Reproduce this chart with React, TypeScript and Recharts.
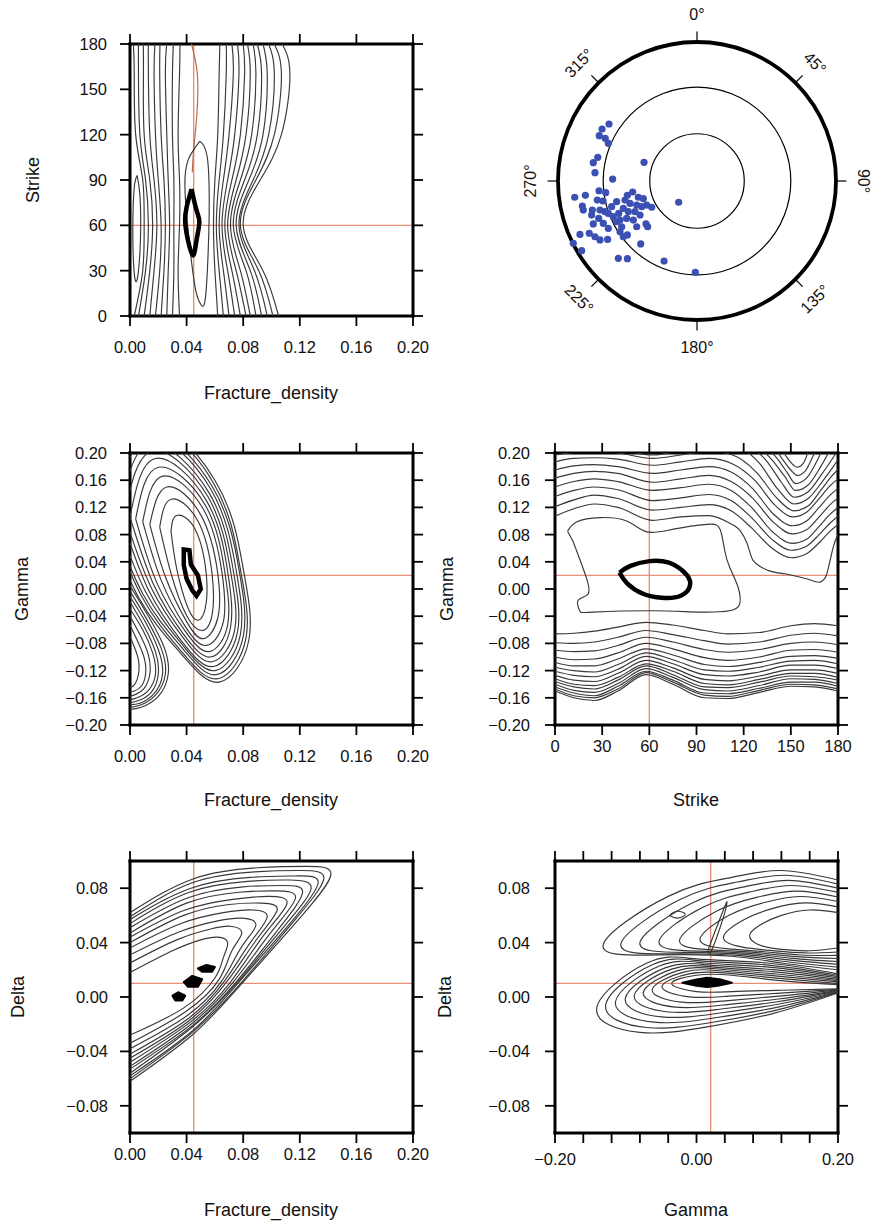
import React from "react";
import { ScatterChart, Scatter, XAxis, YAxis, ReferenceLine, ReferenceDot } from "recharts";

type Pt = [number, number];
type Curve = { pts: Pt[]; joint?: string; width?: number; color?: string; filled?: boolean };

const FONT = '"Liberation Sans", Arial, Helvetica, sans-serif';
const INK = "#383838";
const RED = "#e88f78";
const BROWN = "#b8654a";
const BLUE = "#3b50b2";

// ---------- panel 1: Fracture_density / Strike ----------
const strikeLevels = [180, 160, 120, 90, 60, 30, 0];
// x position of each near-vertical contour at the strike levels above
const fdStrikeLeft = [
  [0.0024, 0.003, 0.004, 0.009, 0.01, 0.009, 0.003],
  [0.0059, 0.006, 0.007, 0.011, 0.013, 0.011, 0.006],
  [0.0094, 0.0095, 0.01, 0.014, 0.016, 0.014, 0.01],
  [0.0129, 0.013, 0.014, 0.017, 0.019, 0.017, 0.014],
  [0.0176, 0.017, 0.018, 0.02, 0.022, 0.021, 0.018],
  [0.0212, 0.021, 0.022, 0.024, 0.025, 0.024, 0.022],
  [0.0259, 0.025, 0.026, 0.027, 0.028, 0.027, 0.026],
  [0.0306, 0.03, 0.03, 0.031, 0.031, 0.031, 0.03],
  [0.0353, 0.035, 0.034, 0.035, 0.035, 0.034, 0.035],
];
const fdStrikeRight = [
  [0.0635, 0.063, 0.062, 0.06, 0.059, 0.06, 0.062],
  [0.068, 0.068, 0.066, 0.063, 0.061, 0.063, 0.066],
  [0.072, 0.073, 0.07, 0.066, 0.063, 0.066, 0.07],
  [0.076, 0.077, 0.074, 0.069, 0.065, 0.069, 0.074],
  [0.08, 0.081, 0.078, 0.072, 0.067, 0.072, 0.078],
  [0.083, 0.085, 0.082, 0.075, 0.069, 0.075, 0.082],
  [0.087, 0.089, 0.086, 0.078, 0.071, 0.078, 0.085],
  [0.09, 0.093, 0.09, 0.081, 0.073, 0.082, 0.089],
  [0.094, 0.097, 0.094, 0.084, 0.075, 0.085, 0.093],
  [0.098, 0.102, 0.098, 0.087, 0.077, 0.088, 0.097],
  [0.102, 0.107, 0.102, 0.089, 0.078, 0.091, 0.101],
  [0.1076, 0.113, 0.107, 0.092, 0.08, 0.094, 0.105],
];
const fdStrikeBrown: Pt[] = [[0.0435, 180], [0.047, 165], [0.048, 150], [0.047, 130], [0.045, 110], [0.044, 95]];
const fdStrikeSideLoop: Pt[] = [[0.005, 93], [0.007, 80], [0.0075, 55], [0.006, 30], [0.004, 23], [0.0025, 35], [0.002, 60], [0.003, 85]];
const fdStrikeInnerLoop: Pt[] = [[0.0494, 115.7], [0.0545, 105.7], [0.056, 77], [0.0553, 44], [0.053, 10], [0.0494, 8.8], [0.0459, 19.8], [0.0412, 55], [0.0388, 86], [0.0412, 103.5]];
const fdStrikeMin: Pt[] = [[0.0435, 84], [0.047, 70], [0.049, 62], [0.047, 50], [0.0445, 40], [0.041, 50], [0.039, 62], [0.04, 72]];

// ---------- panel 3: Fracture_density / Gamma ----------
const fdGammaRings: Pt[][] = [
  [[0.029, 0.085], [0.033, 0.108], [0.046, 0.088], [0.054, 0.02], [0.053, -0.03], [0.048, -0.046], [0.041, -0.028], [0.033, 0.03]],
  [[0.021, 0.091], [0.029, 0.132], [0.048, 0.1], [0.058, 0.022], [0.058, -0.038], [0.051, -0.061], [0.04, -0.039], [0.029, 0.023]],
  [[0.014, 0.095], [0.026, 0.15], [0.05, 0.109], [0.062, 0.023], [0.062, -0.043], [0.052, -0.073], [0.04, -0.048], [0.025, 0.018]],
  [[0.009, 0.099], [0.023, 0.166], [0.052, 0.117], [0.065, 0.024], [0.066, -0.048], [0.054, -0.083], [0.039, -0.055], [0.022, 0.013]],
  [[0.004, 0.103], [0.02, 0.179], [0.053, 0.124], [0.067, 0.025], [0.069, -0.053], [0.056, -0.092], [0.039, -0.062], [0.019, 0.009]],
  [[0.0, 0.106], [0.018, 0.192], [0.054, 0.13], [0.069, 0.026], [0.071, -0.057], [0.057, -0.1], [0.038, -0.067], [0.017, 0.005]],
  [[-0.004, 0.108], [0.016, 0.203], [0.055, 0.136], [0.071, 0.027], [0.074, -0.06], [0.058, -0.107], [0.038, -0.073], [0.015, 0.002]],
  [[-0.007, 0.111], [0.014, 0.213], [0.056, 0.141], [0.073, 0.027], [0.076, -0.063], [0.059, -0.114], [0.037, -0.078], [0.013, -0.001]],
  [[-0.011, 0.113], [0.013, 0.223], [0.057, 0.147], [0.075, 0.028], [0.078, -0.067], [0.06, -0.12], [0.037, -0.082], [0.011, -0.004]],
  [[-0.014, 0.116], [0.011, 0.233], [0.058, 0.151], [0.077, 0.029], [0.08, -0.07], [0.061, -0.126], [0.037, -0.087], [0.009, -0.007]],
  [[-0.017, 0.118], [0.01, 0.242], [0.059, 0.156], [0.078, 0.029], [0.082, -0.072], [0.062, -0.132], [0.036, -0.091], [0.008, -0.01]],
  [[-0.02, 0.12], [0.008, 0.25], [0.06, 0.16], [0.08, 0.03], [0.084, -0.075], [0.063, -0.137], [0.036, -0.095], [0.006, -0.012]],
];
const fdGammaLobes: Pt[][] = [
  [[0, -0.07], [0.003, -0.085], [0.006, -0.105], [0.006, -0.125], [0.004, -0.138], [0.002, -0.143], [0, -0.145]],
  [[0, -0.053], [0.005, -0.075], [0.01, -0.101], [0.011, -0.125], [0.008, -0.143], [0.003, -0.15], [0, -0.152]],
  [[0, -0.04], [0.007, -0.067], [0.013, -0.097], [0.014, -0.125], [0.01, -0.146], [0.004, -0.155], [0, -0.158]],
  [[0, -0.029], [0.009, -0.06], [0.016, -0.094], [0.018, -0.125], [0.013, -0.149], [0.005, -0.16], [0, -0.163]],
  [[0, -0.019], [0.01, -0.055], [0.018, -0.092], [0.02, -0.125], [0.015, -0.152], [0.006, -0.164], [0, -0.167]],
  [[0, -0.011], [0.011, -0.049], [0.02, -0.089], [0.023, -0.125], [0.017, -0.154], [0.007, -0.168], [0, -0.17]],
  [[0, -0.003], [0.012, -0.045], [0.022, -0.087], [0.025, -0.125], [0.018, -0.156], [0.007, -0.171], [0, -0.174]],
  [[0, 0.005], [0.013, -0.04], [0.024, -0.085], [0.027, -0.125], [0.02, -0.158], [0.008, -0.174], [0, -0.177]],
];
const fdGammaMin: Pt[] = [[0.038, 0.058], [0.042, 0.057], [0.043, 0.036], [0.048, 0.02], [0.05, 0.0], [0.047, -0.01], [0.044, -0.002], [0.04, 0.015], [0.038, 0.035]];

// ---------- panel 4: Strike / Gamma ----------
const strikeGammaWaves: Pt[][] = [
  [[0, 0.107], [12, 0.118], [25, 0.125], [40, 0.12], [62, 0.101], [80, 0.106], [98, 0.108], [110, 0.098], [118, 0.085], [122, 0.068], [126, 0.042], [136, 0.027], [147, 0.022], [160, 0.015], [168, 0.01], [172, 0.017], [175, 0.042], [177, 0.062], [180, 0.08]],
  [[0, 0.121], [12, 0.131], [25, 0.138], [40, 0.133], [62, 0.116], [80, 0.12], [98, 0.124], [112, 0.115], [125, 0.09], [138, 0.06], [150, 0.046], [160, 0.052], [168, 0.068], [175, 0.085], [180, 0.095]],
  [[0, 0.136], [12, 0.145], [25, 0.15], [40, 0.146], [62, 0.13], [80, 0.134], [98, 0.139], [112, 0.13], [125, 0.105], [138, 0.073], [150, 0.057], [160, 0.063], [168, 0.08], [175, 0.097], [180, 0.107]],
  [[0, 0.15], [12, 0.158], [25, 0.162], [40, 0.158], [62, 0.145], [80, 0.149], [98, 0.154], [112, 0.145], [125, 0.12], [138, 0.085], [151, 0.067], [160, 0.073], [168, 0.092], [175, 0.11], [180, 0.12]],
  [[0, 0.163], [12, 0.17], [25, 0.173], [40, 0.17], [62, 0.157], [80, 0.162], [98, 0.167], [112, 0.158], [126, 0.133], [139, 0.098], [151, 0.081], [160, 0.087], [168, 0.106], [175, 0.124], [180, 0.134]],
  [[0, 0.175], [12, 0.181], [25, 0.183], [40, 0.18], [62, 0.17], [80, 0.175], [98, 0.18], [112, 0.172], [126, 0.147], [139, 0.11], [151, 0.093], [160, 0.1], [168, 0.12], [175, 0.138], [180, 0.148]],
  [[0, 0.187], [12, 0.192], [25, 0.193], [40, 0.191], [62, 0.182], [80, 0.187], [98, 0.192], [112, 0.185], [127, 0.16], [140, 0.123], [151, 0.106], [160, 0.113], [168, 0.133], [175, 0.152], [180, 0.162]],
  [[0, 0.197], [12, 0.201], [25, 0.203], [40, 0.2], [62, 0.192], [80, 0.197], [98, 0.203], [113, 0.197], [128, 0.172], [141, 0.134], [152, 0.115], [161, 0.122], [169, 0.145], [176, 0.166], [180, 0.176]],
  [[38, 0.21], [50, 0.201], [62, 0.197], [74, 0.201], [86, 0.21]],
];
const strikeGammaCups: Pt[][] = [
  [[118, 0.21], [130, 0.185], [142, 0.146], [152, 0.125], [161, 0.133], [170, 0.158], [177, 0.18], [180, 0.19]],
  [[124, 0.21], [134, 0.19], [144, 0.157], [152, 0.135], [161, 0.143], [170, 0.17], [176, 0.19], [180, 0.205]],
  [[129, 0.21], [138, 0.19], [146, 0.166], [153, 0.145], [161, 0.153], [169, 0.18], [175, 0.205]],
  [[134, 0.21], [142, 0.19], [148, 0.17], [153, 0.155], [160, 0.163], [167, 0.19], [171, 0.21]],
  [[139, 0.21], [145, 0.19], [150, 0.175], [154, 0.167], [159, 0.173], [164, 0.195], [167, 0.21]],
  [[143, 0.21], [148, 0.192], [154, 0.179], [158, 0.185], [162, 0.21]],
];
const strikeGammaBlob: Pt[] = [
  [8, 0.085], [14, 0.099], [28.7, 0.105], [45.6, 0.1], [58.4, 0.084], [75.4, 0.088], [96.6, 0.095], [105, 0.088], [107.9, 0.057], [111.1, 0.032],
  [116.4, 0.003], [117.5, -0.022], [111, -0.032], [92, -0.034], [62.3, -0.032], [24.2, -0.034], [15.7, -0.032], [14.6, -0.017], [21, -0.0075], [19.9, 0.017], [13.6, 0.057], [11, 0.072],
];
const strikeGammaMin: Pt[] = [[41, 0.024], [48, 0.034], [60, 0.041], [72, 0.039], [82, 0.025], [86, 0.007], [80, -0.01], [68, -0.013], [56, -0.007], [46, 0.008]];
const strikeStations = [0, 12, 25, 40, 58, 75, 95, 110, 130, 150, 165, 180];
const strikeGammaLower = [
  [-0.066, -0.065, -0.062, -0.056, -0.049, -0.053, -0.061, -0.066, -0.064, -0.054, -0.051, -0.054],
  [-0.079, -0.08, -0.078, -0.071, -0.061, -0.067, -0.076, -0.081, -0.078, -0.068, -0.065, -0.069],
  [-0.09, -0.092, -0.091, -0.083, -0.071, -0.078, -0.089, -0.093, -0.089, -0.08, -0.078, -0.082],
  [-0.1, -0.104, -0.103, -0.094, -0.08, -0.088, -0.101, -0.105, -0.1, -0.09, -0.089, -0.093],
  [-0.108, -0.113, -0.113, -0.103, -0.088, -0.097, -0.111, -0.114, -0.108, -0.099, -0.098, -0.102],
  [-0.115, -0.12, -0.122, -0.111, -0.094, -0.104, -0.119, -0.121, -0.115, -0.106, -0.105, -0.11],
  [-0.121, -0.127, -0.129, -0.118, -0.099, -0.11, -0.126, -0.128, -0.122, -0.112, -0.112, -0.117],
  [-0.127, -0.134, -0.136, -0.124, -0.105, -0.116, -0.133, -0.135, -0.128, -0.119, -0.119, -0.124],
  [-0.132, -0.14, -0.142, -0.13, -0.11, -0.121, -0.139, -0.141, -0.133, -0.124, -0.124, -0.13],
  [-0.136, -0.144, -0.147, -0.134, -0.113, -0.126, -0.144, -0.145, -0.137, -0.128, -0.129, -0.134],
  [-0.14, -0.149, -0.152, -0.139, -0.117, -0.13, -0.148, -0.15, -0.142, -0.132, -0.133, -0.139],
  [-0.144, -0.153, -0.157, -0.143, -0.121, -0.134, -0.153, -0.154, -0.146, -0.137, -0.137, -0.143],
  [-0.147, -0.157, -0.16, -0.147, -0.123, -0.137, -0.156, -0.158, -0.149, -0.14, -0.141, -0.147],
  [-0.15, -0.16, -0.164, -0.15, -0.126, -0.14, -0.16, -0.161, -0.152, -0.143, -0.144, -0.15],
];

// ---------- panel 5: Fracture_density / Delta ----------
const fdDeltaChevrons: Pt[][] = [
  [[0, 0.018], [0.03, 0.034], [0.05, 0.042], [0.062, 0.044], [0.069, 0.04], [0.066, 0.029], [0.06, 0.014], [0.038, -0.008], [0, -0.028]],
  [[0, 0.025], [0.033, 0.042], [0.057, 0.05], [0.071, 0.052], [0.079, 0.047], [0.072, 0.034], [0.063, 0.013], [0.039, -0.011], [0, -0.034]],
  [[0, 0.031], [0.035, 0.048], [0.062, 0.056], [0.079, 0.058], [0.089, 0.053], [0.079, 0.037], [0.065, 0.012], [0.04, -0.014], [0, -0.038]],
  [[0, 0.036], [0.036, 0.054], [0.066, 0.062], [0.086, 0.064], [0.097, 0.059], [0.085, 0.04], [0.067, 0.012], [0.041, -0.016], [0, -0.042]],
  [[0, 0.04], [0.038, 0.06], [0.07, 0.068], [0.093, 0.069], [0.104, 0.064], [0.09, 0.043], [0.069, 0.012], [0.041, -0.018], [0, -0.045]],
  [[0, 0.044], [0.039, 0.064], [0.074, 0.072], [0.098, 0.074], [0.111, 0.069], [0.095, 0.046], [0.071, 0.011], [0.042, -0.019], [0, -0.048]],
  [[0, 0.047], [0.04, 0.069], [0.077, 0.077], [0.103, 0.078], [0.117, 0.073], [0.1, 0.048], [0.073, 0.011], [0.042, -0.021], [0, -0.051]],
  [[0, 0.051], [0.041, 0.073], [0.08, 0.081], [0.108, 0.082], [0.122, 0.077], [0.105, 0.05], [0.075, 0.011], [0.043, -0.022], [0, -0.053]],
  [[0, 0.054], [0.042, 0.077], [0.083, 0.085], [0.113, 0.086], [0.128, 0.08], [0.109, 0.052], [0.076, 0.011], [0.043, -0.023], [0, -0.056]],
  [[0, 0.057], [0.043, 0.08], [0.085, 0.088], [0.117, 0.089], [0.133, 0.084], [0.113, 0.054], [0.077, 0.011], [0.044, -0.025], [0, -0.058]],
  [[0, 0.059], [0.044, 0.084], [0.088, 0.092], [0.121, 0.093], [0.137, 0.087], [0.116, 0.056], [0.079, 0.011], [0.044, -0.026], [0, -0.06]],
  [[0, 0.062], [0.045, 0.087], [0.09, 0.095], [0.125, 0.096], [0.142, 0.09], [0.12, 0.058], [0.08, 0.011], [0.045, -0.027], [0, -0.062]],
];
const fdDeltaMins: Pt[][] = [
  [[0.03, 0.001], [0.034, 0.0035], [0.039, 0.001], [0.037, -0.0025], [0.032, -0.0025]],
  [[0.038, 0.011], [0.044, 0.0155], [0.051, 0.013], [0.048, 0.0075], [0.041, 0.0075]],
  [[0.048, 0.021], [0.054, 0.0235], [0.06, 0.022], [0.058, 0.0185], [0.051, 0.0185]],
];

// ---------- panel 6: Gamma / Delta ----------
const gammaDeltaUpper: Pt[][] = [
  [[0.2, 0.086], [0.12, 0.093], [0.05, 0.088], [-0.04, 0.074], [-0.132, 0.038], [-0.05, 0.031], [0.05, 0.03], [0.12, 0.025], [0.2, 0.02]],
  [[0.2, 0.083], [0.125, 0.0895], [0.058, 0.0846], [-0.024, 0.0715], [-0.107, 0.0388], [-0.033, 0.0318], [0.058, 0.0306], [0.125, 0.0261], [0.2, 0.0219]],
  [[0.2, 0.08], [0.13, 0.0858], [0.0675, 0.081], [-0.0075, 0.0688], [-0.08, 0.0398], [-0.015, 0.0328], [0.0675, 0.0313], [0.13, 0.0273], [0.2, 0.024]],
  [[0.2, 0.0769], [0.135, 0.082], [0.077, 0.0774], [0.009, 0.066], [-0.053, 0.0407], [0.003, 0.0337], [0.077, 0.0319], [0.135, 0.0284], [0.2, 0.0261]],
  [[0.2, 0.0735], [0.141, 0.0779], [0.086, 0.0734], [0.028, 0.0631], [-0.024, 0.0416], [0.023, 0.0346], [0.086, 0.0326], [0.141, 0.0297], [0.2, 0.0283]],
  [[0.2, 0.0702], [0.146, 0.0739], [0.096, 0.0695], [0.046, 0.0601], [0.005, 0.0426], [0.042, 0.0356], [0.096, 0.0333], [0.146, 0.0309], [0.2, 0.0306]],
  [[0.2, 0.0663], [0.153, 0.0692], [0.107, 0.065], [0.067, 0.0568], [0.038, 0.0437], [0.065, 0.0367], [0.107, 0.0341], [0.153, 0.0324], [0.2, 0.0331]],
  [[0.2, 0.062], [0.16, 0.064], [0.12, 0.06], [0.09, 0.053], [0.075, 0.045], [0.09, 0.038], [0.12, 0.035], [0.16, 0.034], [0.2, 0.036]],
];
const gammaDeltaLower: Pt[][] = [
  [[0.2, 0.017], [0.1, 0.025], [0.0, 0.028], [-0.07, 0.025], [-0.141, -0.008], [-0.08, -0.026], [0.015, -0.022], [0.109, -0.012], [0.2, 0.003]],
  [[0.2, 0.016], [0.102, 0.0234], [0.006, 0.0266], [-0.0616, 0.0239], [-0.1283, -0.0058], [-0.0704, -0.0224], [0.0192, -0.0189], [0.1103, -0.01], [0.2, 0.0034]],
  [[0.2, 0.015], [0.105, 0.0218], [0.0125, 0.025], [-0.0525, 0.0228], [-0.1145, -0.0035], [-0.06, -0.0185], [0.0238, -0.0155], [0.1118, -0.0078], [0.2, 0.0038]],
  [[0.2, 0.014], [0.1076, 0.0201], [0.019, 0.0234], [-0.0434, 0.0216], [-0.1007, -0.0012], [-0.0496, -0.0146], [0.0283, -0.0121], [0.1132, -0.0055], [0.2, 0.0041]],
  [[0.2, 0.013], [0.11, 0.0185], [0.025, 0.022], [-0.035, 0.0205], [-0.088, 0.001], [-0.04, -0.011], [0.0325, -0.009], [0.1145, -0.0035], [0.2, 0.0045]],
  [[0.2, 0.012], [0.1124, 0.0169], [0.031, 0.0206], [-0.0266, 0.0194], [-0.0753, 0.0032], [-0.0304, -0.0074], [0.0367, -0.0059], [0.1158, -0.0015], [0.2, 0.0049]],
  [[0.2, 0.0111], [0.1148, 0.0154], [0.037, 0.0191], [-0.0182, 0.0183], [-0.0626, 0.0053], [-0.0208, -0.0038], [0.0409, -0.0028], [0.1171, 0.0006], [0.2, 0.0052]],
  [[0.2, 0.0098], [0.1174, 0.0137], [0.0435, 0.0176], [-0.0091, 0.0172], [-0.0488, 0.0077], [-0.0104, 0.0001], [0.0455, 0.0006], [0.1186, 0.0028], [0.2, 0.0056]],
  [[0.2, 0.009], [0.12, 0.012], [0.05, 0.016], [0.0, 0.016], [-0.035, 0.01], [0.0, 0.004], [0.05, 0.004], [0.12, 0.005], [0.2, 0.006]],
];
const gammaDeltaPocket: Pt[] = [[-0.038, 0.06], [-0.028, 0.063], [-0.016, 0.061], [-0.026, 0.058]];
const gammaDeltaFinger: Pt[] = [[0.016, 0.034], [0.026, 0.048], [0.038, 0.064], [0.043, 0.07], [0.04, 0.062], [0.03, 0.046], [0.02, 0.033]];
const gammaDeltaMin: Pt[] = [[-0.02, 0.0105], [0.0, 0.0128], [0.015, 0.0142], [0.035, 0.0128], [0.05, 0.0105], [0.03, 0.0082], [0.015, 0.0074], [0.0, 0.0082]];

// ---------- panel 2: stereonet ----------
const dirAngles = [0, 45, 90, 135, 180, 225, 270, 315];
const dirTilt = [0, 45, 90, -45, 0, 45, -90, -45];
const ringRadii = [0.34, 0.675, 1];
// projected pole positions (east, north), unit = outer circle radius
const poleXY: Pt[] = [
  [-0.633, 0.41], [-0.683, 0.374], [-0.703, 0.326], [-0.66, 0.307], [-0.638, 0.271], [-0.714, 0.17], [-0.746, 0.132], [-0.734, 0.06],
  [-0.607, 0.014], [-0.381, 0.134], [-0.88, -0.117], [-0.803, -0.103], [-0.705, -0.07], [-0.657, -0.084], [-0.717, -0.137], [-0.676, -0.144],
  [-0.825, -0.18], [-0.818, -0.209], [-0.753, -0.209], [-0.698, -0.209], [-0.758, -0.245], [-0.707, -0.269], [-0.746, -0.309], [-0.674, -0.305],
  [-0.638, -0.233], [-0.602, -0.257], [-0.563, -0.233], [-0.578, -0.293], [-0.542, -0.329], [-0.501, -0.103], [-0.463, -0.079], [-0.422, -0.117],
  [-0.386, -0.127], [-0.518, -0.137], [-0.482, -0.161], [-0.434, -0.173], [-0.398, -0.185], [-0.362, -0.173], [-0.326, -0.189], [-0.53, -0.197],
  [-0.494, -0.221], [-0.446, -0.221], [-0.41, -0.245], [-0.506, -0.269], [-0.458, -0.281], [-0.554, -0.365], [-0.501, -0.388], [-0.638, -0.341],
  [-0.434, -0.329], [-0.367, -0.309], [-0.355, -0.329], [-0.775, -0.376], [-0.734, -0.401], [-0.698, -0.424], [-0.842, -0.384], [-0.643, -0.42],
  [-0.83, -0.501], [-0.89, -0.448], [-0.405, -0.453], [-0.566, -0.556], [-0.501, -0.559], [-0.237, -0.576], [-0.012, -0.657], [-0.132, -0.153],
  [-0.578, -0.149], [-0.614, -0.185], [-0.662, -0.221], [-0.554, -0.281], [-0.53, -0.401],
];

// ---------- helpers ----------
const ring = (pts: Pt[]): Pt[] => [...pts, pts[0]];
const thin = (pts: Pt[], joint = "natural"): Curve => ({ pts, joint });
const loop = (pts: Pt[]): Curve => ({ pts: ring(pts), joint: "natural" });
const heavy = (pts: Pt[], w = 4.5, joint = "linearClosed"): Curve => ({ pts, joint, width: w, color: "#000" });
const solid = (pts: Pt[]): Curve => ({ pts, filled: true, color: "#000", width: 2 });
const fmt2 = (v: number) => (v < 0 ? "\u2212" : "") + Math.abs(v).toFixed(2);
const fmt0 = (v: number) => String(v);
const Blank = () => <g />;
const FilledShape = (props: any) => (
  <polygon points={(props.points || []).map((q: any) => `${q.x},${q.y}`).join(" ")} fill="#000" stroke="#000" strokeWidth={2} strokeLinejoin="round" />
);

const PW = 283;
const PH = 272;
const AL = 130;
const AT = 16;
const AR = 16;
const AB = 60;
const TICK = 10;
const TICK_FONT = 16.5;

// label-only tick renderers; the tick marks themselves are drawn as segments
function makeLabel(side: "bottom" | "left", fmt: (v: number) => string) {
  return (props: any) => {
    const { x, y, payload } = props;
    const label = fmt(payload.value);
    if (!label) return <g />;
    const text = { fill: "#111", fontSize: TICK_FONT, fontFamily: FONT };
    return side === "bottom" ? (
      <text x={x} y={y} dy="0.72em" textAnchor="middle" {...text}>{label}</text>
    ) : (
      <text x={x} y={y} dy="0.36em" textAnchor="end" {...text}>{label}</text>
    );
  };
}

type PanelProps = {
  left: number;
  top: number;
  xDomain: [number, number];
  yDomain: [number, number];
  xTicks: number[];
  yTicks: number[];
  xFormat: (v: number) => string;
  yFormat: (v: number) => string;
  xGap: number;
  yGap: number;
  curves: Curve[];
  refX: number;
  refY: number;
};

function ContourPanel(p: PanelProps) {
  const frame = { stroke: "#000", strokeWidth: 3, strokeLinecap: "square" };
  const [x0, x1] = p.xDomain;
  const [y0, y1] = p.yDomain;
  const dy = (TICK / PH) * (y1 - y0);
  const dx = (TICK / PW) * (x1 - x0);
  const marks = [
    ...p.xTicks.map((v) => [{ x: v, y: y0 }, { x: v, y: y0 - dy }]),
    ...p.xTicks.map((v) => [{ x: v, y: y1 }, { x: v, y: y1 + dy }]),
    ...p.yTicks.map((v) => [{ x: x0, y: v }, { x: x0 - dx, y: v }]),
    ...p.yTicks.map((v) => [{ x: x1, y: v }, { x: x1 + dx, y: v }]),
  ];
  return (
    <div style={{ position: "absolute", left: p.left - AL, top: p.top - AT }}>
      <ScatterChart width={AL + PW + AR} height={AT + PH + AB} margin={{ top: 0, right: 0, bottom: 0, left: 0 }}>
        {p.curves.map((c, i) => (
          <Scatter
            key={i}
            xAxisId="b"
            yAxisId="l"
            data={c.pts.map(([x, y]) => ({ x, y }))}
            line={c.filled ? FilledShape : { stroke: c.color ?? INK, strokeWidth: c.width ?? 1.15 }}
            lineType="joint"
            lineJointType={(c.joint ?? "natural") as any}
            shape={Blank}
            isAnimationActive={false}
          />
        ))}
        <ReferenceLine xAxisId="b" yAxisId="l" x={p.refX} stroke={RED} strokeWidth={1.4} />
        <ReferenceLine xAxisId="b" yAxisId="l" y={p.refY} stroke={RED} strokeWidth={1.4} />
        {marks.map((s, i) => (
          <ReferenceLine key={`m${i}`} xAxisId="b" yAxisId="l" segment={s} ifOverflow="visible" stroke="#000" strokeWidth={1.8} />
        ))}
        <XAxis xAxisId="b" dataKey="x" type="number" domain={p.xDomain} allowDataOverflow ticks={p.xTicks} interval={0}
          height={AB} tickSize={TICK} tickMargin={p.xGap} axisLine={frame} tickLine={false} tick={makeLabel("bottom", p.xFormat)} />
        <XAxis xAxisId="t" orientation="top" type="number" domain={p.xDomain} allowDataOverflow
          height={AT} axisLine={frame} tickLine={false} tick={false} />
        <YAxis yAxisId="l" dataKey="y" type="number" domain={p.yDomain} allowDataOverflow ticks={p.yTicks} interval={0}
          width={AL} tickSize={TICK} tickMargin={p.yGap} axisLine={frame} tickLine={false} tick={makeLabel("left", p.yFormat)} />
        <YAxis yAxisId="r" orientation="right" type="number" domain={p.yDomain} allowDataOverflow
          width={AR} axisLine={frame} tickLine={false} tick={false} />
      </ScatterChart>
    </div>
  );
}

const POLAR_PX = 139;
const PoleDot = (props: any) => <circle cx={props.cx} cy={props.cy} r={3.6} fill={BLUE} />;
const DirLabel = (props: any) => (
  <text x={props.cx} y={props.cy} transform={`rotate(${props.payload.tilt} ${props.cx} ${props.cy})`}
    textAnchor="middle" dominantBaseline="central" fontSize={16} fontFamily={FONT} fill="#111">
    {props.payload.text}
  </text>
);

function PolarPanel() {
  const size = 360;
  const half = size / 2 / POLAR_PX;
  const at = (deg: number, r: number) => ({ x: Math.sin((deg * Math.PI) / 180) * r, y: Math.cos((deg * Math.PI) / 180) * r });
  const labels = dirAngles.map((a, i) => ({ ...at(a, 1.2), text: `${a}°`, tilt: dirTilt[i] }));
  const dots = poleXY.map(([x, y]) => ({ x, y }));
  return (
    <div style={{ position: "absolute", left: 697 - size / 2, top: 181 - size / 2 }}>
      <ScatterChart width={size} height={size} margin={{ top: 0, right: 0, bottom: 0, left: 0 }}>
        <XAxis dataKey="x" type="number" domain={[-half, half]} allowDataOverflow hide />
        <YAxis dataKey="y" type="number" domain={[-half, half]} allowDataOverflow hide />
        {ringRadii.map((r, i) => (
          <ReferenceDot key={i} x={0} y={0} r={r * POLAR_PX} fill="none" stroke="#000"
            strokeWidth={i === ringRadii.length - 1 ? 3.8 : 1.2} />
        ))}
        {dirAngles.map((a) => (
          <ReferenceLine key={a} segment={[at(a, 1), at(a, 1.075)]} stroke="#000" strokeWidth={1.2} />
        ))}
        <Scatter data={dots} shape={PoleDot} isAnimationActive={false} />
        <Scatter data={labels} shape={DirLabel} isAnimationActive={false} />
      </ScatterChart>
    </div>
  );
}

function Title({ x, y, text, vertical }: { x: number; y: number; text: string; vertical?: boolean }) {
  return (
    <div style={{
      position: "absolute", left: x, top: y, whiteSpace: "nowrap", color: "#111",
      font: `18px ${FONT}`, lineHeight: "20px",
      transform: `translate(-50%, -50%)${vertical ? " rotate(-90deg)" : ""}`,
    }}>{text}</div>
  );
}

const fdTicks = [0, 0.04, 0.08, 0.12, 0.16, 0.2];
const strikeTicks = [0, 30, 60, 90, 120, 150, 180];
const gammaTicks = [-0.2, -0.16, -0.12, -0.08, -0.04, 0, 0.04, 0.08, 0.12, 0.16, 0.2];
const deltaTicks = [-0.08, -0.04, 0, 0.04, 0.08];
const gammaLabelled = [-0.2, 0, 0.2];

export default function App() {
  const p1: Curve[] = [
    ...fdStrikeLeft.map((xs) => thin(xs.map((x, i) => [x, strikeLevels[i]] as Pt))),
    ...fdStrikeRight.map((xs) => thin(xs.map((x, i) => [x, strikeLevels[i]] as Pt))),
    { pts: fdStrikeBrown, joint: "natural", color: BROWN },
    loop(fdStrikeSideLoop),
    loop(fdStrikeInnerLoop),
    heavy(ring(fdStrikeMin), 4.5, "natural"),
  ];
  const p3: Curve[] = [
    ...fdGammaRings.map(loop),
    ...fdGammaLobes.map((l) => thin(l)),
    heavy(fdGammaMin, 4.5),
  ];
  const p4: Curve[] = [
    ...strikeGammaWaves.map((l) => thin(l, "monotoneX")),
    ...strikeGammaCups.map((l) => thin(l, "monotoneX")),
    loop(strikeGammaBlob),
    ...strikeGammaLower.map((ys) => thin(ys.map((y, i) => [strikeStations[i], y] as Pt), "monotoneX")),
    heavy(ring(strikeGammaMin), 4.5, "natural"),
  ];
  const p5: Curve[] = [
    ...fdDeltaChevrons.map((l) => thin(l)),
    ...fdDeltaMins.map(solid),
  ];
  const p6: Curve[] = [
    ...gammaDeltaUpper.map((l) => thin(l)),
    ...gammaDeltaLower.map((l) => thin(l)),
    loop(gammaDeltaPocket),
    loop(gammaDeltaFinger),
    solid(gammaDeltaMin),
  ];

  return (
    <div style={{ position: "absolute", left: 0, top: 0, width: 877, height: 1223, background: "#fff", overflow: "hidden" }}>
      <ContourPanel left={130} top={44} xDomain={[0, 0.2]} yDomain={[0, 180]} xTicks={fdTicks} yTicks={strikeTicks}
        xFormat={fmt2} yFormat={fmt0} xGap={15} yGap={13} curves={p1} refX={0.045} refY={60} />
      <PolarPanel />
      <ContourPanel left={130} top={453} xDomain={[0, 0.2]} yDomain={[-0.2, 0.2]} xTicks={fdTicks} yTicks={gammaTicks}
        xFormat={fmt2} yFormat={fmt2} xGap={15} yGap={13} curves={p3} refX={0.045} refY={0.02} />
      <ContourPanel left={555} top={453} xDomain={[0, 180]} yDomain={[-0.2, 0.2]} xTicks={strikeTicks} yTicks={gammaTicks}
        xFormat={fmt0} yFormat={fmt2} xGap={5} yGap={15} curves={p4} refX={60} refY={0.02} />
      <ContourPanel left={130} top={861} xDomain={[0, 0.2]} yDomain={[-0.1, 0.1]} xTicks={fdTicks} yTicks={deltaTicks}
        xFormat={fmt2} yFormat={fmt2} xGap={5} yGap={12} curves={p5} refX={0.045} refY={0.01} />
      <ContourPanel left={555} top={861} xDomain={[-0.2, 0.2]} yDomain={[-0.1, 0.1]} xTicks={gammaTicks} yTicks={deltaTicks}
        xFormat={(v) => (gammaLabelled.includes(v) ? fmt2(v) : "")} yFormat={fmt2} xGap={10} yGap={15} curves={p6} refX={0.02} refY={0.01} />

      <Title x={33} y={180} text="Strike" vertical />
      <Title x={271} y={393} text="Fracture_density" />
      <Title x={22} y={589} text="Gamma" vertical />
      <Title x={271} y={800} text="Fracture_density" />
      <Title x={447} y={589} text="Gamma" vertical />
      <Title x={696} y={800} text="Strike" />
      <Title x={18} y={997} text="Delta" vertical />
      <Title x={271} y={1210} text="Fracture_density" />
      <Title x={445} y={997} text="Delta" vertical />
      <Title x={696} y={1210} text="Gamma" />
    </div>
  );
}
